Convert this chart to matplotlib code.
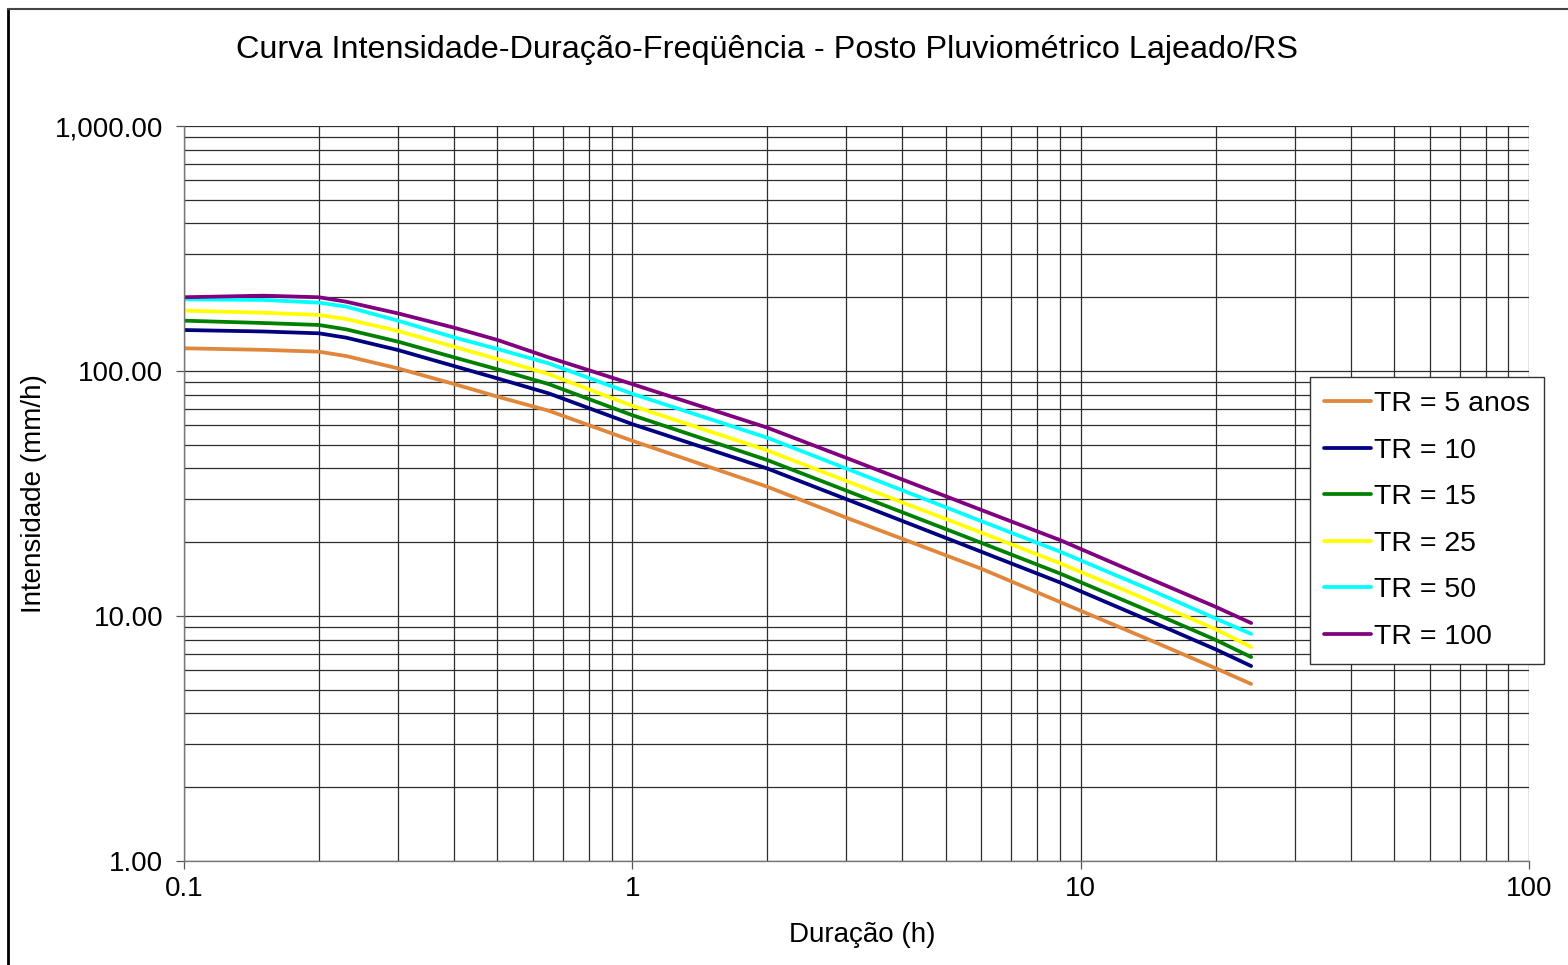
import matplotlib.pyplot as plt
from matplotlib.ticker import FixedLocator, NullFormatter, LogLocator
from matplotlib.lines import Line2D

plt.rcParams['font.family'] = ['Liberation Sans', 'DejaVu Sans']

# durations (h)
duracao = [0.1, 0.15, 0.2, 0.23, 0.3, 0.4, 0.5, 0.65, 1, 2, 3, 6, 9, 14, 20, 24]

# intensities (mm/h)
tr5 = [123.8, 122, 119.9, 115.1, 102.5, 88.5, 78.6, 68.9, 51.9, 33.7, 25.2, 15.6, 11.4, 8.1, 6.12, 5.28]
tr10 = [147.0, 145, 142.5, 136.8, 121.8, 104.8, 93.3, 81.1, 60.7, 40.0, 30.0, 18.3, 13.7, 9.7, 7.31, 6.25]
tr15 = [160.5, 157, 154.1, 147.9, 131.8, 113.7, 101.6, 88.5, 66.0, 43.3, 32.5, 19.9, 14.9, 10.6, 7.99, 6.8]
tr25 = [176.3, 173, 169.3, 163.0, 145.7, 125.7, 111.9, 97.2, 72.1, 47.4, 35.6, 21.9, 16.4, 11.7, 8.83, 7.47]
tr50 = [196.1, 195, 190.1, 183.1, 160.5, 137.2, 123.0, 107.5, 80.7, 53.4, 40.0, 24.4, 18.3, 13.0, 9.77, 8.45]
tr100 = [200, 203, 200, 191.8, 171.9, 150.3, 133.9, 113.7, 88.4, 58.7, 44.2, 27.1, 20.4, 14.4, 10.9, 9.36]

series = [tr5, tr10, tr15, tr25, tr50, tr100]
labels = ['TR = 5 anos', 'TR = 10', 'TR = 15', 'TR = 25', 'TR = 50', 'TR = 100']
colors = ['#E0873C', '#000080', '#008000', '#FFFF00', '#00FFFF', '#800080']

fig = plt.figure(figsize=(15.68, 9.65), dpi=100)
ax = fig.add_axes([184/1568, 1 - 861/965, (1529 - 184)/1568, (861 - 126)/965])

for y, lab, c in zip(series, labels, colors):
    ax.plot(duracao, y, color=c, lw=2.7, label=lab, solid_capstyle='round', solid_joinstyle='round')

ax.set_xscale('log')
ax.set_yscale('log')
ax.set_xlim(0.1, 100)
ax.set_ylim(1, 1000)

ax.xaxis.set_major_locator(FixedLocator([0.1, 1, 10, 100]))
ax.xaxis.set_minor_locator(LogLocator(base=10, subs=range(2, 10)))
ax.yaxis.set_major_locator(FixedLocator([1, 10, 100, 1000]))
ax.yaxis.set_minor_locator(LogLocator(base=10, subs=range(2, 10)))
ax.xaxis.set_minor_formatter(NullFormatter())
ax.yaxis.set_minor_formatter(NullFormatter())
ax.set_xticklabels(['0.1', '1', '10', '100'])
ax.set_yticklabels(['1.00', '10.00', '100.00', '1,000.00'])

ax.grid(True, which='both', color='#2e2e2e', lw=0.9)
ax.tick_params(which='major', length=6, width=0.9, color='#555555', labelsize=20)
ax.tick_params(axis='x', pad=5)
ax.tick_params(axis='y', pad=9)
ax.tick_params(which='minor', length=0)
for s in ['top', 'right']:
    ax.spines[s].set_visible(False)
for s in ['left', 'bottom']:
    ax.spines[s].set_color('#777777')
    ax.spines[s].set_linewidth(1.0)

ax.set_xlabel('Duração (h)', fontsize=20)
ax.set_ylabel('Intensidade (mm/h)', fontsize=20)
ax.xaxis.set_label_coords((862 - 184)/1345, (861 - 922)/735)
ax.yaxis.set_label_coords((47 - 184)/1345, 0.5)

fig.text(767/1568, 1 - 50/965, 'Curva Intensidade-Duração-Freqüência - Posto Pluviométrico Lajeado/RS',
         ha='center', va='center', fontsize=23.3)

leg = ax.legend(loc='upper left', bbox_to_anchor=(1310/1568, 1 - 377/965),
                bbox_transform=fig.transFigure, fontsize=20.5, frameon=True, fancybox=False,
                handlelength=1.65, handletextpad=0.1, borderpad=0.5, labelspacing=0.72,
                borderaxespad=0)
leg.get_frame().set_edgecolor('#333333')
leg.get_frame().set_linewidth(1.0)
leg.get_frame().set_alpha(1)

# outer chart frame
fig.add_artist(Line2D([8/1568, 8/1568], [0, 1 - 9/965], transform=fig.transFigure, color='black', lw=2))
fig.add_artist(Line2D([8/1568, 1], [1 - 9/965, 1 - 9/965], transform=fig.transFigure, color='#444444', lw=1.5))

fig.savefig('out.png', dpi=100)
